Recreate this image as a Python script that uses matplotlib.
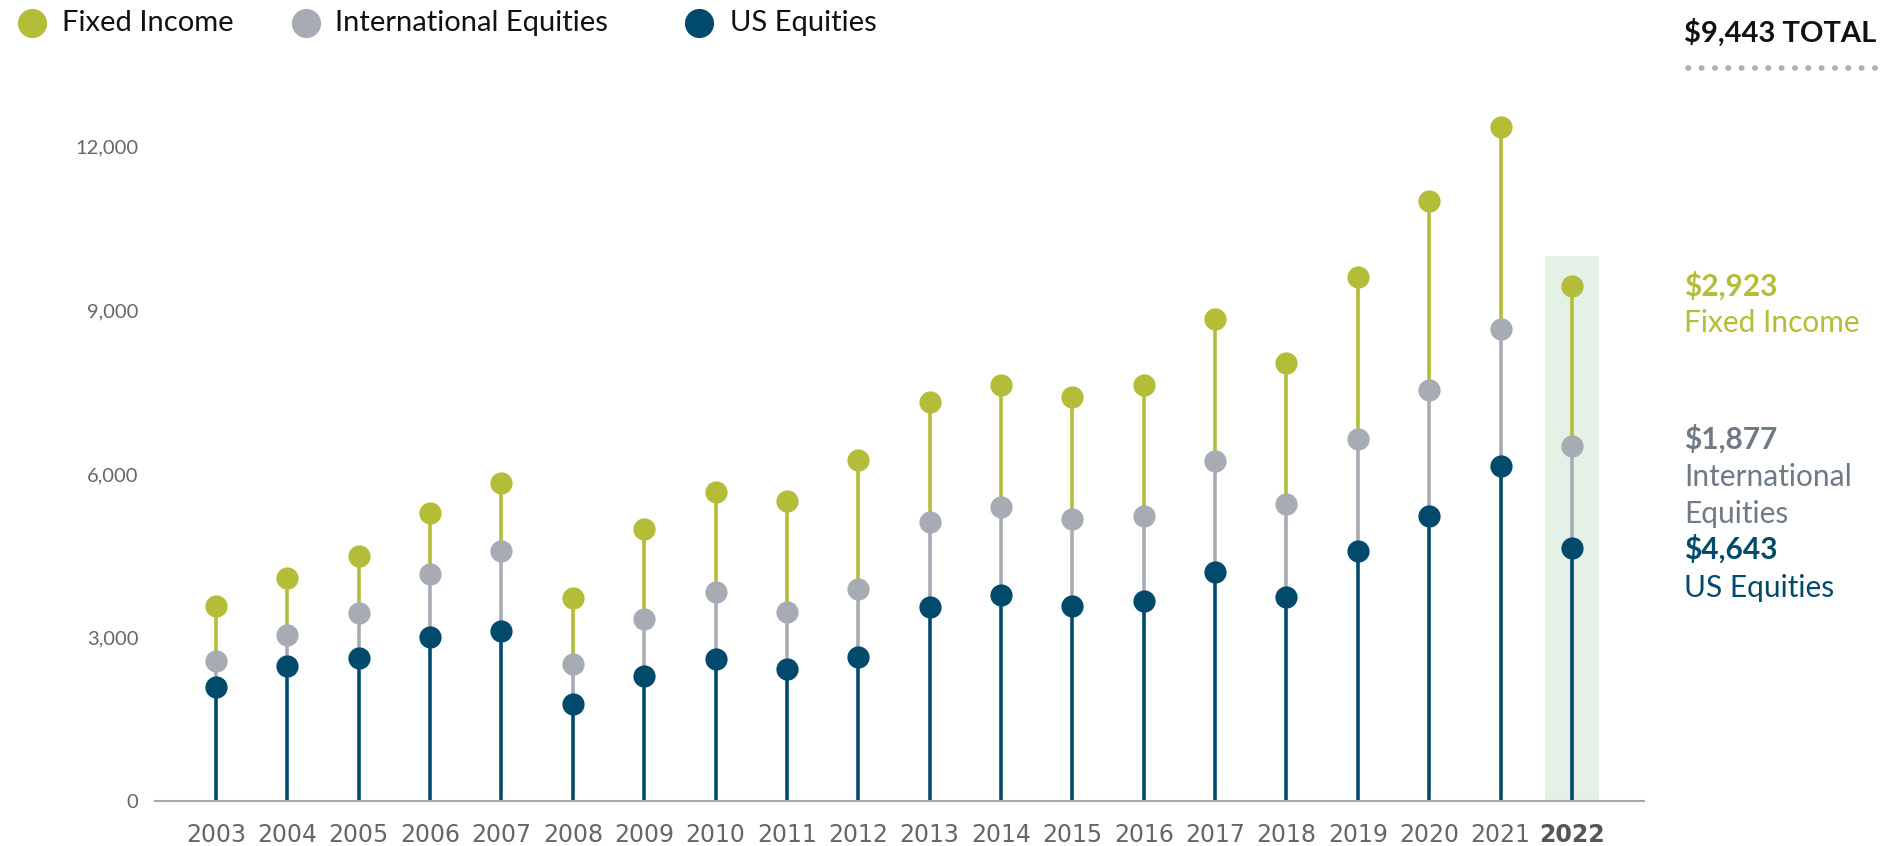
import matplotlib
matplotlib.use("Agg")
import matplotlib.pyplot as plt
import numpy as np

years = list(range(2003, 2023))
us_equities = [2093, 2471, 2627, 3006, 3117, 1781, 2293, 2605, 2427, 2649,
               3562, 3785, 3584, 3673, 4208, 3740, 4586, 5232, 6145, 4643]
intl_top = [2560, 3050, 3451, 4163, 4586, 2516, 3340, 3829, 3473, 3896,
            5120, 5388, 5165, 5232, 6234, 5454, 6634, 7547, 8660, 6520]
fixed_top = [3584, 4096, 4497, 5276, 5833, 3718, 4987, 5677, 5499, 6256,
             7325, 7636, 7414, 7636, 8839, 8037, 9618, 10998, 12356, 9443]
y_ticks = [0, 3000, 6000, 9000, 12000]
highlight_top = 10000

C_FI = "#b3bd38"
C_INTL = "#a7abb3"
C_US = "#024a6b"
C_INTL_TXT = "#6f7a86"

plt.rcParams['font.family'] = ['Lato', 'DejaVu Sans']

fig = plt.figure(figsize=(19.02, 8.46), dpi=100)
ax = fig.add_axes([155/1902, 45/846, (1644-155)/1902, 708.7/846])
ax.set_xlim(2002.145, 2023.01)
ax.set_ylim(0, 13000)

x = np.array(years)
ax.bar([2022], [highlight_top], width=0.75, color="#e3f1e6", zorder=0)
ax.vlines(x, 0, us_equities, color=C_US, lw=2.6, zorder=2)
ax.vlines(x, us_equities, intl_top, color=C_INTL, lw=2.6, zorder=2)
ax.vlines(x, intl_top, fixed_top, color=C_FI, lw=2.6, zorder=2)
ax.plot(x, fixed_top, 'o', color=C_FI, ms=16, mec='none', zorder=3, clip_on=False)
ax.plot(x, intl_top, 'o', color=C_INTL, ms=16, mec='none', zorder=3, clip_on=False)
ax.plot(x, us_equities, 'o', color=C_US, ms=16, mec='none', zorder=3, clip_on=False)

for s in ['top', 'right', 'left']:
    ax.spines[s].set_visible(False)
ax.spines['bottom'].set_color('#a8a8a8')
ax.spines['bottom'].set_linewidth(1.5)

ax.set_yticks(y_ticks)
ax.set_yticklabels([f"{v:,}" for v in y_ticks], fontsize=14.5, color='#666666')
ax.tick_params(axis='y', length=0, pad=12)
ax.set_xticks(years)
ax.set_xticklabels([str(y) for y in years],
                   fontsize=17, color='#666666',
                   family=['Liberation Sans Narrow', 'DejaVu Sans'])
ax.tick_params(axis='x', length=0, pad=16)
lbl = ax.get_xticklabels()[-1]
lbl.set_fontweight('bold')
lbl.set_color('#555555')

# Legend
legend_items = [("Fixed Income", C_FI, 31.5, 62), ("International Equities", C_INTL, 306, 335),
                ("US Equities", C_US, 699, 730)]
for name, col, cx, tx in legend_items:
    fig.add_artist(plt.Line2D([cx/1902], [1 - 23/846], transform=fig.transFigure,
                              marker='o', ms=21, color=col, mec='none', linestyle='none'))
    fig.text(tx/1902, 1 - 23/846, name, color='#111111', fontsize=21,
             ha='left', va='center')

# Right annotations
fig.text(1684/1902, 1 - 33/846, "$9,443 TOTAL", fontsize=21, fontweight='bold',
         color='#111111', ha='left', va='center')
fig.add_artist(plt.Line2D([1688/1902, 1878/1902], [1 - 68/846, 1 - 68/846],
                          transform=fig.transFigure, color='#b0b0b0', lw=4,
                          linestyle=(0, (0.1, 2.3)), dash_capstyle='round'))

ann = [("$2,923", 286, C_FI, 'bold'), ("Fixed Income", 323, C_FI, 'normal'),
       ("$1,877", 439, C_INTL_TXT, 'bold'), ("International", 477, C_INTL_TXT, 'normal'),
       ("Equities", 514, C_INTL_TXT, 'normal'), ("$4,643", 549, C_US, 'bold'),
       ("US Equities", 588, C_US, 'normal')]
for t, py, col, w in ann:
    fig.text(1684/1902, 1 - py/846, t, fontsize=21.5, fontweight=w, color=col,
             ha='left', va='center')

fig.savefig("out.png", dpi=100)
